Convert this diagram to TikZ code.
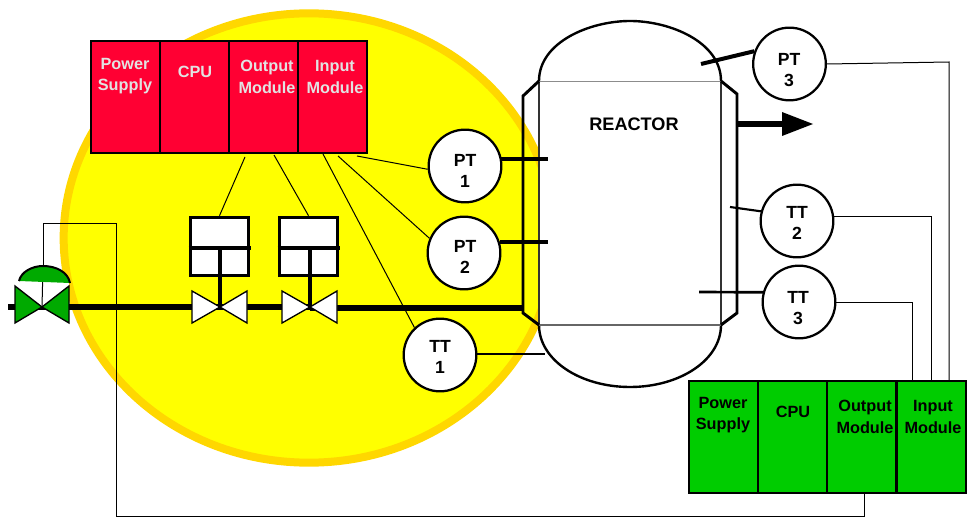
\documentclass[tikz,border=0pt]{standalone}
\usepackage{fontspec}
\setmainfont{Liberation Sans}
\usetikzlibrary{calc,shapes.geometric}
\definecolor{plcred}{HTML}{FF0033}
\definecolor{plcgreen}{HTML}{00CC00}
\definecolor{valvegreen}{HTML}{00AA00}
\definecolor{zonegold}{HTML}{FFD700}
\definecolor{zoneyellow}{HTML}{FFFF00}
\definecolor{paletext}{HTML}{E2E2E2}
\tikzset{
  px/.style={x=0.75pt,y=-0.75pt},
  module/.style={draw=black,line width=1.05pt,outer sep=0pt,minimum width=51.75pt,minimum height=84pt,inner sep=0pt,anchor=north west},
  redmod/.style={module,fill=plcred},
  greenmod/.style={module,fill=plcgreen},
  modtext/.style={font=\bfseries\fontsize{12.2}{16}\selectfont,align=center,inner sep=0pt},
  instrtext/.style={font=\bfseries\fontsize{13.2}{16}\selectfont,align=center,inner sep=0pt},
  instr/.style={circle,draw=black,fill=white,line width=1.7pt,minimum size=54.5pt,inner sep=0pt},
  thin wire/.style={line width=0.75pt},
  mid wire/.style={line width=1.6pt},
  heavy/.style={line width=3pt},
  pipe/.style={line width=4.4pt},
  box/.style={draw=black,fill=white,line width=2.2pt,minimum width=44pt,minimum height=44pt,inner sep=0pt},
  valve/.style={draw=black,fill=white,line width=1pt,line join=miter},
  gvalve/.style={draw=black,fill=valvegreen,line width=1pt}
}
\begin{document}
\begin{tikzpicture}[px]
\useasboundingbox (0,0) rectangle (970,520);
% zone
\node[ellipse,draw=zonegold,fill=zoneyellow,line width=6pt,minimum width=368pt,minimum height=337pt,inner sep=0pt] (zone) at (309,238) {};
% jacket
\coordinate (jtl) at (523,96); \coordinate (jbl) at (523,313);
\coordinate (jtr) at (737,94); \coordinate (jbr) at (737,313);
\coordinate (rtl) at (539,81); \coordinate (rtr) at (721,81);
\coordinate (rbl) at (539,325); \coordinate (rbr) at (721,325);
% reactor
\fill[white] (rtl) .. controls (539,42) and (590,21) .. (630,21) .. controls (670,21) and (721,42) .. (rtr) -- (rbr) .. controls (721,360) and (680,387) .. (630,387) .. controls (580,387) and (539,360) .. (rbl) -- cycle;
\draw[line width=1.8pt] (rtl) .. controls (539,42) and (590,21) .. (630,21) .. controls (670,21) and (721,42) .. (rtr);
\draw[line width=1.8pt] (rbr) .. controls (721,360) and (680,387) .. (630,387) .. controls (580,387) and (539,360) .. (rbl);
\draw[line width=1.4pt,black!80] (rtl) -- (rbl) (rtr) -- (rbr);
\draw[line width=0.6pt,black!45] (rtl) -- (rtr);
\draw[line width=0.9pt,black!60] (rbl) -- (rbr);
\draw[line width=2.2pt] (rtl) -- (jtl) -- (jbl) -- (rbl);
\draw[line width=2.2pt] (rtr) -- (jtr) -- (jbr) -- (rbr);
\node[modtext,font=\bfseries\fontsize{13.6}{16}\selectfont] (reactor) at (634,124) {REACTOR};
% outlet arrow
\coordinate (outA) at (738,124); \coordinate (outB) at (782,124);
\draw[pipe] (outA) -- (outB);
\fill (782,112) -- (813,124) -- (782,136) -- cycle;
% PLC red
\node[redmod] (rps) at (91,41) {};
\node[redmod] (rcpu) at (160,41) {};
\node[redmod] (rout) at (229,41) {};
\node[redmod] (rin) at (298,41) {};
\node[modtext,text=paletext] (rpsT) at (125,76) {Power\\Supply};
\node[modtext,text=paletext] (rcpuT) at (195,72) {CPU};
\node[modtext,text=paletext] (routT) at (267,77) {Output\\Module};
\node[modtext,text=paletext] (rinT) at (335,77) {Input\\Module};
% PLC green
\node[greenmod] (gps) at (689,381) {};
\node[greenmod] (gcpu) at (758,381) {};
\node[greenmod] (gout) at (827,381) {};
\node[greenmod] (gin) at (897,381) {};
\node[modtext] (gpsT) at (723,415) {Power\\Supply};
\node[modtext] (gcpuT) at (793,412) {CPU};
\node[modtext] (goutT) at (865,417) {Output\\Module};
\node[modtext] (ginT) at (933,417) {Input\\Module};
% pipes
\coordinate (pipeL) at (8,307);
\coordinate (v0) at (42,307); \coordinate (v1) at (220,307); \coordinate (v2) at (310,307);
\draw[pipe] (pipeL) -- (v1);
\draw[pipe] (v1) -- (v2);
\draw[pipe] (v2 |- 0,308) -- (jbl |- 0,308);
% actuators
\node[box] (b1) at (219.5,246.5) {};
\node[box] (b2) at (308.5,246.5) {};
\draw[line width=2.6pt] (b1.west |- 0,248) -- ($(b1.east |- 0,248)+(1,0)$);
\draw[line width=2.6pt] (b2.west |- 0,248) -- ($(b2.east |- 0,248)+(1,0)$);
\draw[line width=2.6pt] (v1 |- 0,248) -- (v1);
\draw[line width=2.6pt] (v2 |- 0,248) -- (v2);
\foreach \v in {v1,v2}{
  \draw[valve] (\v) -- ($(\v)+(-28,-16)$) -- ($(\v)+(-28,16)$) -- cycle;
  \draw[valve] (\v) -- ($(\v)+(27,-16)$) -- ($(\v)+(27,16)$) -- cycle;
}
% field valve
\coordinate (dome) at (43,266);
\fill[white] (15,282) rectangle (69,307);
\draw[thin wire] (dome) -- (v0);
\fill[valvegreen] (19,281) .. controls (21,272) and (32,266) .. (dome) .. controls (56,266) and (68,272) .. (70,283) -- cycle;
\draw[line width=1.5pt] (19,281) .. controls (21,272) and (32,266) .. (dome) .. controls (56,266) and (68,272) .. (70,283);
\draw[gvalve] (v0) -- ($(v0)+(-27,-21)$) -- ($(v0)+(-27,16)$) -- cycle;
\draw[gvalve] (v0) -- ($(v0)+(27,-21)$) -- ($(v0)+(27,16)$) -- cycle;
% instruments
\node[instr] (pt1) at (465,166) {};
\node[instr] (pt2) at (464,253) {};
\node[instr] (tt1) at (440,355) {};
\node[instr] (pt3) at (789.5,64) {};
\node[instr] (tt2) at (797,221) {};
\node[instr] (tt3) at (799,302) {};
\node[instrtext] (pt1T) at (465,171) {PT\\1};
\node[instrtext] (pt2T) at (465,257) {PT\\2};
\node[instrtext] (tt1T) at (440,357) {TT\\1};
\node[instrtext] (pt3T) at (789,70) {PT\\3};
\node[instrtext] (tt2T) at (797,223) {TT\\2};
\node[instrtext] (tt3T) at (798,308) {TT\\3};
% process taps
\coordinate (t1) at (548,159); \coordinate (t2) at (548,242); \coordinate (t3) at (545,354);
\coordinate (t4) at (701,64); \coordinate (t5) at (730,207); \coordinate (t6) at (699,292);
\draw[heavy] (pt1.east |- t1) ++(-1,0) -- (t1);
\draw[heavy] (pt2.east |- t2) ++(-1,0) -- (t2);
\draw[line width=2pt] (tt1.east |- t3) -- (t3);
\draw[heavy] (pt3.160) -- (t4);
\draw[mid wire] (tt2.165) -- (t5);
\draw[line width=2pt] (tt3.165) -- (t6);
% red PLC wires
\coordinate (r1) at (357,156); \coordinate (r2) at (338,156); \coordinate (r3) at (323,154);
\coordinate (r4) at (245,157); \coordinate (r5) at (274,155);
\draw[thin wire] (r1) -- (pt1.185);
\draw[thin wire] (r2) -- (pt2.157);
\draw[thin wire] (r3) -- (tt1.133);
\draw[thin wire] (r4) -- (b1.north);
\draw[thin wire] (r5) -- (b2.north);
% green PLC wires
\draw[thin wire] (pt3.east) -- (949,62) -- (gin.north -| 949,0);
\draw[thin wire] (tt2.east |- 0,217) -- (931,217) -- (gin.north -| 931,0);
\draw[thin wire] (tt3.east) -- (912,302) -- (gin.north -| 912,0);
\draw[thin wire] (dome) -- (43,224) -- (116,224) -- (116,516) -- (864,516) -- (gout.south -| 864,0);
\end{tikzpicture}
\end{document}
